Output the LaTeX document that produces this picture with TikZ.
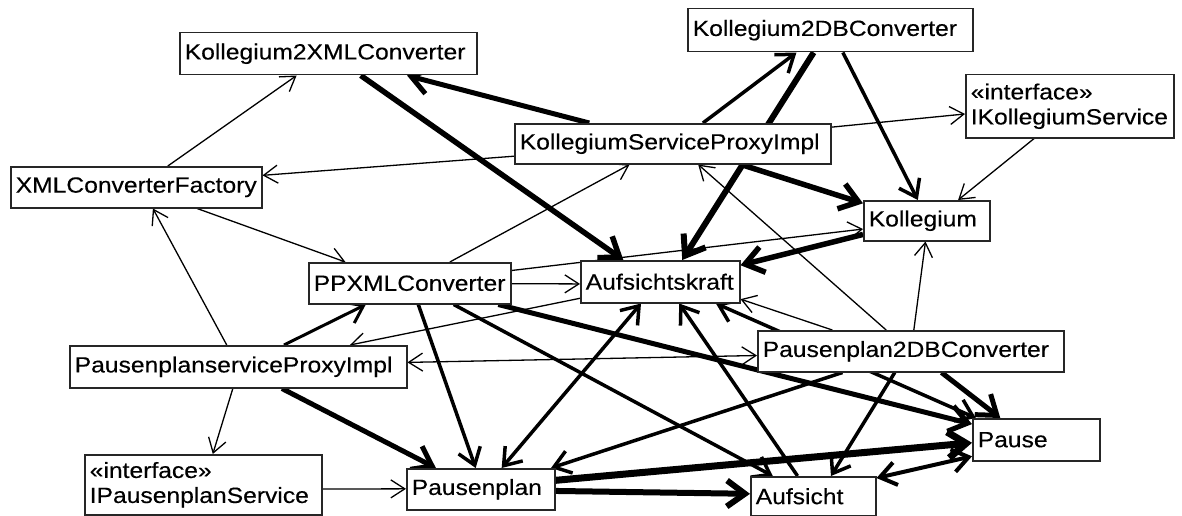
\documentclass[tikz,border=0pt]{standalone}
\usepackage{fontspec}
\setmainfont{Liberation Sans}[FakeStretch=1.12,FakeBold=0.3]
\usetikzlibrary{arrows.meta,calc}
\pgfdeclarelayer{edges}
\pgfsetlayers{edges,main}
\begin{document}
\begin{tikzpicture}[x=1pt,y=-1pt,
  cls/.style={draw=black!85, fill=white, line width=1.5pt, anchor=north west,
    inner xsep=5pt, inner ysep=1pt, align=left,
    font=\fontsize{22pt}{25pt}\selectfont},
  dep/.style={line width=1.3pt, >={Straight Barb[length=14pt,width=18pt]}, ->},
  mid/.style={line width=3.5pt, >={Straight Barb[length=16pt,width=23pt]}, ->},
  bold/.style={line width=5.5pt, >={Straight Barb[length=18pt,width=26pt]}, ->},
]
\useasboundingbox (0,0) rectangle (1182,516);

% classes
\node[cls, text width=287pt, minimum height=42pt] (k2x)   at (179,32)  {Kollegium2XMLConverter};
\node[cls, text width=275pt, minimum height=43pt] (k2d)   at (687,8)   {Kollegium2DBConverter};
\node[cls, text width=198pt, minimum height=63pt] (iks)   at (965,74)  {«interface»\\IKollegiumService};
\node[cls, text width=241pt, minimum height=41pt] (xcf)   at (10,166)  {XMLConverterFactory};
\node[cls, text width=306pt, minimum height=40pt] (ksp)   at (514,123) {KollegiumServiceProxyImpl};
\node[cls, text width=116pt, minimum height=40pt] (kol)   at (863,200) {Kollegium};
\node[cls, text width=192pt, minimum height=41pt] (ppx)   at (308,262) {PPXMLConverter};
\node[cls, text width=149pt, minimum height=42pt] (ak)    at (580,260) {Aufsichtskraft};
\node[cls, text width=327pt, minimum height=42pt] (psp)   at (69,345)  {PausenplanserviceProxyImpl};
\node[cls, text width=296pt, minimum height=41pt] (p2d)   at (757,330) {Pausenplan2DBConverter};
\node[cls, text width=227pt, minimum height=60pt] (ips)   at (84,454)  {«interface»\\IPausenplanService};
\node[cls, text width=138pt, minimum height=41pt] (pp)    at (406,468) {Pausenplan};
\node[cls, text width=117pt, minimum height=42pt] (pause) at (972,418) {Pause};
\node[cls, text width=115pt, minimum height=39pt] (auf)   at (750,476) {Aufsicht};

\begin{pgfonlayer}{edges}
% dependencies (thin)
\draw[dep] ($(xcf.north west)!.625!(xcf.north east)$) -- ($(k2x.south west)!.394!(k2x.south east)$);
\draw[dep] ($(ksp.north west)!.8!(ksp.south west)$) -- ($(xcf.north east)!.22!(xcf.south east)$);
\draw[dep] ($(xcf.south west)!.741!(xcf.south east)$) -- ($(ppx.north west)!.184!(ppx.north east)$);
\draw[dep] ($(ppx.north west)!.697!(ppx.north east)$) -- ($(ksp.south west)!.364!(ksp.south east)$);
\draw[dep] ($(ksp.north east)!.1!(ksp.south east)$) -- ($(iks.north west)!.62!(iks.south west)$);
\draw[dep] ($(iks.south west)!.33!(iks.south east)$) -- ($(kol.north west)!.746!(kol.north east)$);
\draw[dep] ($(p2d.north west)!.51!(p2d.north east)$) -- ($(kol.south west)!.49!(kol.south east)$);
\draw[dep] ($(p2d.north west)!.42!(p2d.north east)$) -- ($(ksp.south west)!.58!(ksp.south east)$);
\draw[dep] ($(ppx.north east)!.2!(ppx.south east)$) -- ($(kol.north west)!.7!(kol.south west)$);
\draw[dep] ($(ppx.north east)!.51!(ppx.south east)$) -- ($(ak.north west)!.55!(ak.south west)$);
\draw[dep] ($(ak.north west)!.88!(ak.south west)$) -- ($(psp.north west)!.83!(psp.north east)$);
\draw[dep, <->] ($(psp.north east)!.4!(psp.south east)$) -- ($(p2d.north west)!.6!(p2d.south west)$);
\draw[dep] ($(psp.north west)!.466!(psp.north east)$) -- ($(xcf.south west)!.566!(xcf.south east)$);
\draw[dep] ($(psp.south west)!.484!(psp.south east)$) -- ($(ips.north west)!.54!(ips.north east)$);
\draw[dep] ($(ips.north east)!.57!(ips.south east)$) -- ($(pp.north west)!.49!(pp.south west)$);
\draw[dep] ($(p2d.north west)!.245!(p2d.north east)$) -- ($(ak.north east)!.9!(ak.south east)$);

% associations (heavy)
\draw[bold, line width=5pt] ($(ksp.north west)!.237!(ksp.north east)$) -- ($(k2x.south west)!.764!(k2x.south east)$);
\draw[bold] ($(k2x.south west)!.609!(k2x.south east)$) -- ($(ak.north west)!.27!(ak.north east)$);
\draw[mid] ($(ksp.north west)!.595!(ksp.north east)$) -- ($(k2d.south west)!.382!(k2d.south east)$);
\draw[bold, line width=6pt] ($(k2d.south west)!.442!(k2d.south east)$) -- ($(ak.north west)!.637!(ak.north east)$);
\draw[mid] ($(k2d.south west)!.544!(k2d.south east)$) -- ($(kol.north west)!.43!(kol.north east)$);
\draw[bold] ($(ksp.south west)!.715!(ksp.south east)$) -- ($(kol.north west)!.08!(kol.south west)$);
\draw[bold] ($(kol.north west)!.83!(kol.south west)$) -- ($(ak.north east)!.12!(ak.south east)$);
\draw[mid, line width=3pt] ($(psp.north west)!.635!(psp.north east)$) -- ($(ppx.south west)!.284!(ppx.south east)$);
\draw[bold, line width=5pt] ($(psp.south west)!.629!(psp.south east)$) -- ($(pp.north west)!.2!(pp.north east)$);
\draw[mid] ($(ppx.south west)!.542!(ppx.south east)$) -- ($(pp.north west)!.466!(pp.north east)$);
\draw[mid, <->] ($(pp.north west)!.64!(pp.north east)$) -- ($(ak.south west)!.38!(ak.south east)$);
\draw[mid] ($(p2d.south west)!.278!(p2d.south east)$) -- ($(pp.north west)!.97!(pp.north east)$);
\draw[bold, line width=5pt] ($(ppx.south west)!.935!(ppx.south east)$) -- ($(pause.north west)!.14!(pause.south west)$);
\draw[mid] ($(ppx.south west)!.716!(ppx.south east)$) -- ($(auf.north west)!.18!(auf.north east)$);
\draw[mid] ($(auf.north west)!.376!(auf.north east)$) -- ($(ak.south west)!.618!(ak.south east)$);
\draw[mid, <->] ($(pause.north west)!.03!(pause.north east)$) -- ($(ak.south west)!.847!(ak.south east)$);
\draw[bold, line width=6pt] ($(pp.north east)!.54!(pp.south east)$) -- ($(auf.north west)!.44!(auf.south west)$);
\draw[bold, line width=7pt] ($(pp.north east)!.29!(pp.south east)$) -- ($(pause.north west)!.57!(pause.south west)$);
\draw[mid, line width=4pt, <->] ($(pause.north west)!.88!(pause.south west)$) -- ($(auf.north east)!.05!(auf.south east)$);
\draw[bold, line width=5pt] ($(p2d.south west)!.6!(p2d.south east)$) -- ($(pause.north west)!.22!(pause.north east)$);
\draw[mid] ($(p2d.south west)!.448!(p2d.south east)$) -- ($(auf.north west)!.64!(auf.north east)$);
\end{pgfonlayer}
\end{tikzpicture}
\end{document}
